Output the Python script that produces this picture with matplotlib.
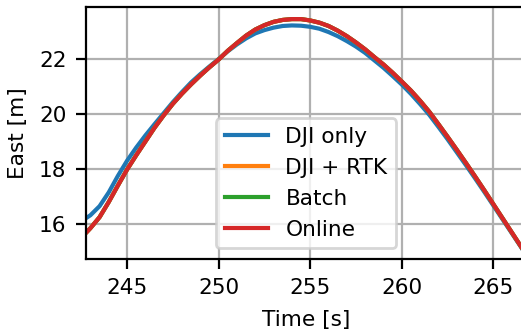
import matplotlib
matplotlib.use("Agg")
import matplotlib.pyplot as plt

# Time axis [s], sampled every 0.5 s
time = [242.5, 243.0, 243.5, 244.0, 244.5, 245.0, 245.5, 246.0, 246.5, 247.0,
        247.5, 248.0, 248.5, 249.0, 249.5, 250.0, 250.5, 251.0, 251.5, 252.0,
        252.5, 253.0, 253.5, 254.0, 254.5, 255.0, 255.5, 256.0, 256.5, 257.0,
        257.5, 258.0, 258.5, 259.0, 259.5, 260.0, 260.5, 261.0, 261.5, 262.0,
        262.5, 263.0, 263.5, 264.0, 264.5, 265.0, 265.5, 266.0, 266.5, 267.0]

# East position [m]
dji_only = [16.10, 16.32, 16.65, 17.15, 17.75, 18.30, 18.78, 19.22, 19.63, 20.03,
            20.43, 20.80, 21.15, 21.45, 21.73, 22.00, 22.28, 22.53, 22.75, 22.93,
            23.05, 23.14, 23.20, 23.22, 23.21, 23.17, 23.10, 22.98, 22.83, 22.65,
            22.45, 22.22, 21.95, 21.68, 21.38, 21.07, 20.73, 20.36, 19.97, 19.53,
            19.08, 18.61, 18.14, 17.66, 17.17, 16.67, 16.17, 15.67, 15.17, 14.67]

online = [15.50, 15.85, 16.25, 16.80, 17.40, 17.98, 18.50, 19.00, 19.50, 19.95,
          20.37, 20.74, 21.08, 21.40, 21.70, 21.98, 22.30, 22.58, 22.85, 23.07,
          23.23, 23.35, 23.42, 23.45, 23.45, 23.40, 23.32, 23.20, 23.03, 22.83,
          22.60, 22.35, 22.07, 21.80, 21.50, 21.18, 20.85, 20.48, 20.08, 19.63,
          19.17, 18.70, 18.22, 17.73, 17.23, 16.72, 16.21, 15.70, 15.19, 14.68]

# DJI + RTK and Batch lie under the Online curve in the picture
dji_rtk = list(online)
batch = list(online)

series = [
    ("DJI only", dji_only, "#1f77b4"),
    ("DJI + RTK", dji_rtk, "#ff7f0e"),
    ("Batch", batch, "#2ca02c"),
    ("Online", online, "#d62728"),
]

DPI = 200
FS = 7.8
fig = plt.figure(figsize=(521 / DPI, 335 / DPI), dpi=DPI)
ax = fig.add_axes([86 / 521, 76 / 335, 440.2 / 521, 252 / 335])

for label, values, color in series:
    ax.plot(time, values, color=color, linewidth=1.5, label=label)

ax.set_xlim(242.76, 266.79)
ax.set_ylim(14.73, 23.89)
ax.set_xticks([245, 250, 255, 260, 265])
ax.set_yticks([16, 18, 20, 22])
ax.grid(True, color="#b0b0b0", linewidth=0.8)
ax.tick_params(labelsize=FS)
ax.set_xlabel("Time [s]", fontsize=FS)
ax.set_ylabel("East [m]", fontsize=FS)
ax.legend(loc="lower center", fontsize=FS)

fig.savefig("out.png", dpi=DPI)
